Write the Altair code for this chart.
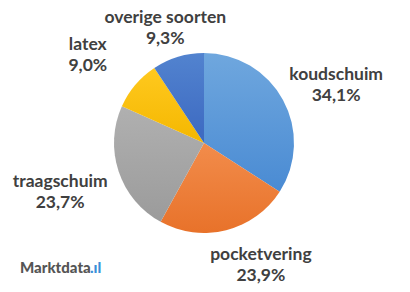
import altair as alt
import pandas as pd

# ---- data ----
categories = ["koudschuim", "pocketvering", "traagschuim", "latex", "overige soorten"]
shares = [34.1, 23.9, 23.7, 9.0, 9.3]
share_labels = ["34,1%", "23,9%", "23,7%", "9,0%", "9,3%"]

# ---- styling (not data) ----
gradients = {
    "koudschuim": ("#6FA7DE", "#4A8BD3"),
    "pocketvering": ("#F28C4B", "#E8722A"),
    "traagschuim": ("#B0B0B0", "#9B9B9B"),
    "latex": ("#FFC91F", "#F4B700"),
    "overige soorten": ("#5283CF", "#3C69C1"),
}
label_nudge = {
    "koudschuim": (11, -2),
    "pocketvering": (23, -22),
    "traagschuim": (-13, -5),
    "latex": (-11, -9),
    "overige soorten": (1, 7),
}
CX, CY, R = 204, 143, 90

df = pd.DataFrame({
    "cat": categories,
    "share": shares,
    "lbl": [f"{c}\n{s}" for c, s in zip(categories, share_labels)],
    "order": list(range(len(categories))),
})

base = alt.Chart(df).transform_window(
    cum="sum(share)", sort=[alt.SortField("order")], frame=[None, 0]
).transform_calculate(
    start="datum.cum - datum.share",
    mid="datum.cum - datum.share / 2",
)

theta_scale = alt.Scale(domain=[0, 100])
layers = []
for c in categories:
    top, bot = gradients[c]
    layers.append(
        base.transform_filter(alt.datum.cat == c).mark_arc(
            radius=R,
            fill=alt.Gradient(
                gradient="linear",
                x1=0, y1=0, x2=0, y2=1,
                stops=[alt.GradientStop(color=top, offset=0),
                       alt.GradientStop(color=bot, offset=1)],
            ),
            strokeWidth=0,
        ).encode(
            theta=alt.Theta("start:Q", scale=theta_scale),
            theta2="cum:Q",
            x=alt.value(CX), y=alt.value(CY),
        )
    )

for c in categories:
    dx, dy = label_nudge[c]
    layers.append(
        base.transform_filter(alt.datum.cat == c).mark_text(
            radius=138, dx=dx, dy=dy, lineBreak="\n", lineHeight=21,
            font="Lato", fontSize=17.5, fontWeight="bold", color="#404040",
            align="center", baseline="middle",
        ).encode(
            theta=alt.Theta("mid:Q", scale=theta_scale),
            text="lbl:N",
            x=alt.value(CX), y=alt.value(CY),
        )
    )

logo_df = pd.DataFrame({"t": ["Marktdata"]})
logo = alt.Chart(logo_df).mark_text(
    font="Lato", fontSize=15, fontWeight=900, color="#555555",
    align="left", baseline="alphabetic",
).encode(text="t:N", x=alt.value(20), y=alt.value(273))
logo_icon = alt.Chart(pd.DataFrame({"t": [".ıl"]})).mark_text(
    font="Lato", fontSize=15, fontWeight=900, color="#3A8FD8",
    align="left", baseline="alphabetic",
).encode(text="t:N", x=alt.value(90), y=alt.value(273))

chart = alt.layer(*layers, logo, logo_icon).properties(
    width=410, height=292,
    autosize=alt.AutoSizeParams(type="none"),
    padding=0,
).configure_view(stroke=None)

chart.save("out.html", embed_options={"renderer": "svg", "actions": False})
